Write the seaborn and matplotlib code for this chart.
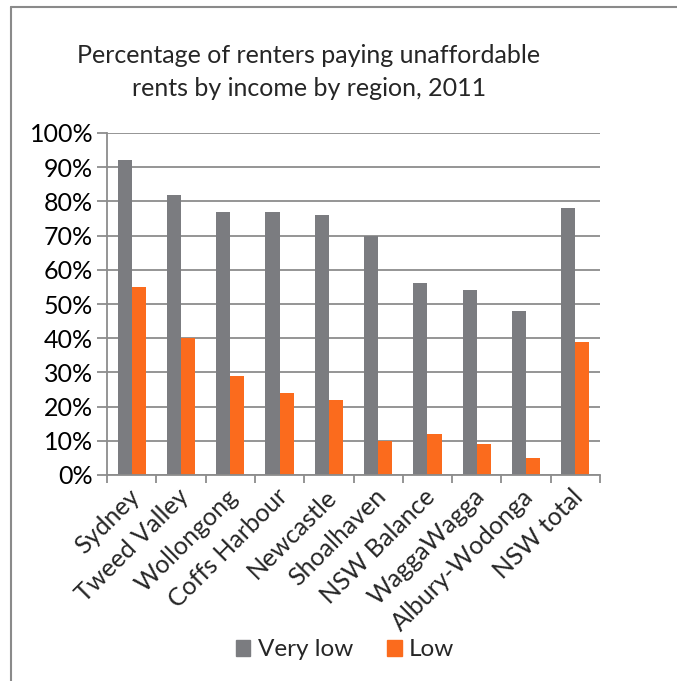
import matplotlib
matplotlib.use("Agg")
import matplotlib.pyplot as plt
import matplotlib.transforms as mtransforms
import seaborn as sns
import pandas as pd
import numpy as np
from matplotlib.patches import Rectangle
from matplotlib.lines import Line2D
from matplotlib.ticker import PercentFormatter, FixedLocator

regions = ["Sydney", "Tweed Valley", "Wollongong", "Coffs Harbour", "Newcastle",
           "Shoalhaven", "NSW Balance", "WaggaWagga", "Albury-Wodonga", "NSW total"]
very_low = [92, 82, 77, 77, 76, 70, 56, 54, 48, 78]
low = [55, 40, 29, 24, 22, 10, 12, 9, 5, 39]
series = ["Very low", "Low"]
title = "Percentage of renters paying unaffordable\nrents by income by region, 2011"

df = pd.DataFrame({
    "Region": regions * 2,
    "Income": [series[0]] * len(regions) + [series[1]] * len(regions),
    "Value": very_low + low,
})

sns.set_theme(style="white")
plt.rcParams["font.family"] = ["Lato", "DejaVu Sans"]

W, H = 677, 681
fig = plt.figure(figsize=(W / 100, H / 100), dpi=100)
ax = fig.add_axes([107 / W, 1 - 475 / H, (600 - 107) / W, (475 - 133) / H])

gray = "#7b7c80"
orange = "#fb6b1d"
grid_c = "#8c8c8c"
fs = 18

sns.barplot(data=df, x="Region", y="Value", hue="Income", hue_order=series,
            palette=[gray, orange], width=0.57, ax=ax, legend=False,
            saturation=1, linewidth=0)

ax.set_ylim(0, 100)
ax.set_xlim(-0.5, len(regions) - 0.5)
ax.set_yticks(np.arange(0, 101, 10))
ax.yaxis.set_major_formatter(PercentFormatter(decimals=0))
ax.grid(axis="y", color=grid_c, linewidth=1.3)
ax.set_axisbelow(True)
ax.set_xlabel("")
ax.set_ylabel("")

for s in ["top", "right"]:
    ax.spines[s].set_visible(False)
for s in ["left", "bottom"]:
    ax.spines[s].set_color(grid_c)
    ax.spines[s].set_linewidth(1.3)

ax.tick_params(axis="y", which="major", direction="out", length=7, width=1.3,
               color=grid_c, labelsize=fs, labelcolor="black", pad=3, left=True)
ax.xaxis.set_minor_locator(FixedLocator(np.arange(-0.5, len(regions), 1.0)))
ax.tick_params(axis="x", which="minor", direction="out", length=6, width=1.3,
               color=grid_c, bottom=True)
ax.tick_params(axis="x", which="major", length=0, labelsize=fs, pad=10)
ax.set_xticks(range(len(regions)))
ax.set_xticklabels(regions, rotation=45, ha="right", va="center",
                   rotation_mode="anchor")
shift = mtransforms.ScaledTranslation(4 / 100, -4 / 100, fig.dpi_scale_trans)
for lbl in ax.get_xticklabels():
    lbl.set_transform(lbl.get_transform() + shift)

fig.text(309 / W, 1 - 72 / H, title, ha="center", va="center", fontsize=fs,
         linespacing=1.5)

# border (left and top edges visible)
fig.add_artist(Line2D([11 / W, 11 / W], [0, 1 - 7 / H], transform=fig.transFigure,
                      color="#8a8a8a", linewidth=1.5))
fig.add_artist(Line2D([11 / W, 1], [1 - 7 / H, 1 - 7 / H], transform=fig.transFigure,
                      color="#8a8a8a", linewidth=1.5))

handles = [Rectangle((0, 0), 1, 1, color=gray), Rectangle((0, 0), 1, 1, color=orange)]
fig.legend(handles, series, loc="center", bbox_to_anchor=(345 / W, 1 - 650 / H),
           ncol=2, frameon=False, fontsize=17.5, handlelength=0.6, handleheight=0.6,
           handletextpad=0.3, columnspacing=1.4)

fig.savefig("out.png", dpi=100)
